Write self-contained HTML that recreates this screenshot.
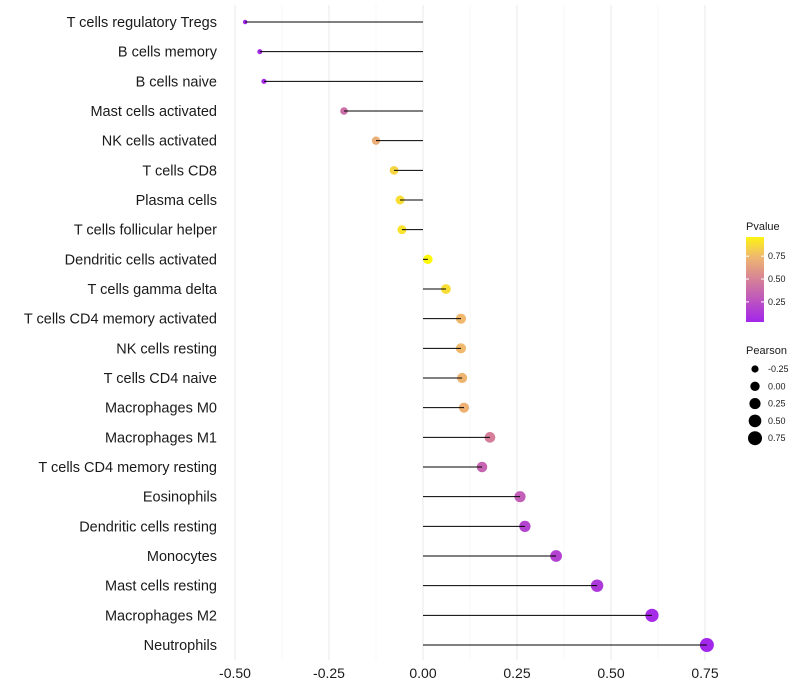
<!DOCTYPE html>
<html><head><meta charset="utf-8"><style>
html,body{margin:0;padding:0;background:#fff;}
svg{display:block;font-family:"Liberation Sans",sans-serif;}
</style></head><body>
<svg id="chart" width="800" height="700"></svg>
<script>
const categories=["T cells regulatory  Tregs","B cells memory","B cells naive","Mast cells activated","NK cells activated","T cells CD8","Plasma cells","T cells follicular helper","Dendritic cells activated","T cells gamma delta","T cells CD4 memory activated","NK cells resting","T cells CD4 naive","Macrophages M0","Macrophages M1","T cells CD4 memory resting","Eosinophils","Dendritic cells resting","Monocytes","Mast cells resting","Macrophages M2","Neutrophils"];
const pearson=[-0.473,-0.434,-0.423,-0.21,-0.125,-0.077,-0.061,-0.056,0.013,0.061,0.101,0.101,0.104,0.109,0.178,0.157,0.258,0.271,0.354,0.463,0.609,0.755];
const pvalues=[0.03,0.05,0.06,0.4,0.7,0.85,0.88,0.9,0.98,0.88,0.75,0.75,0.73,0.72,0.48,0.35,0.32,0.18,0.18,0.12,0.06,0.03];
const xTicks=[-0.5,-0.25,0,0.25,0.5,0.75];
const xTickLabels=["-0.50","-0.25","0.00","0.25","0.50","0.75"];
const sizeLegend=[-0.25,0,0.25,0.5,0.75];
const sizeLegendLabels=["-0.25","0.00","0.25","0.50","0.75"];
const colorLegendTicks=[0.25,0.5,0.75];
const colorLegendLabels=["0.25","0.50","0.75"];

const NS="http://www.w3.org/2000/svg";
const svg=document.getElementById('chart');
function mk(t,a,p){const e=document.createElementNS(NS,t);for(const k in a)e.setAttribute(k,a[k]);(p||svg).appendChild(e);return e;}
const x=v=>423+v*376;
const y=i=>22+i*(623/21);
const r=v=>Math.sqrt(4+(v+0.5)*36);
const stops=[[0,[160,32,240]],[0.5,[214,130,150]],[0.75,[240,185,110]],[1,[255,255,0]]];
function col(p){p=Math.max(0,Math.min(1,p));for(let i=1;i<stops.length;i++){if(p<=stops[i][0]){const a=stops[i-1],b=stops[i],t=(p-a[0])/(b[0]-a[0]);const c=a[1].map((v,k)=>Math.round(v+(b[1][k]-v)*t));return `rgb(${c.join(',')})`;}}return 'rgb(255,255,0)';}

for(let k=0;k<xTicks.length-1;k++){
 const m=(xTicks[k]+xTicks[k+1])/2;
 const g=mk('line',{x1:x(m),x2:x(m),y1:5,y2:660,stroke:'#f2f2f2','stroke-width':0.6});
 
 
}
xTicks.forEach((v,k)=>{
 const g=mk('line',{x1:x(v),x2:x(v),y1:5,y2:660,stroke:'#ebebeb','stroke-width':1.1});
 
 
 const t=mk('text',{x:x(v),y:678,'text-anchor':'middle','font-size':14,fill:'#1a1a1a'});
 t.textContent=xTickLabels[k];
 
 
});
categories.forEach((c,i)=>{
 const t=mk('text',{x:217,y:y(i)+5,'text-anchor':'end','font-size':14.5,fill:'#1a1a1a'});
 t.textContent=c;
 
 
 const d=mk('circle',{cx:x(pearson[i]),cy:y(i),r:r(pearson[i]),fill:col(pvalues[i])});
 
 
 const l=mk('line',{x1:x(0),x2:x(pearson[i]),y1:y(i),y2:y(i),stroke:'#000','stroke-width':1});
 
 
});
const lt=mk('text',{x:746,y:230,'font-size':11,fill:'#1a1a1a'});lt.textContent='Pvalue';


const defs=mk('defs',{});
const gr=mk('linearGradient',{id:'pg',x1:0,y1:1,x2:0,y2:0},defs);
for(let i=0;i<=20;i++){const p=0.03+i/20*0.93;mk('stop',{offset:i/20,'stop-color':col(p)},gr);}
const bar=mk('rect',{x:746,y:237,width:18,height:85,fill:'url(#pg)'});


colorLegendTicks.forEach((v,k)=>{
 const yy=322-(v-0.03)/0.93*85;
 mk('line',{x1:746,x2:749,y1:yy,y2:yy,stroke:'#fff'});
 mk('line',{x1:761,x2:764,y1:yy,y2:yy,stroke:'#fff'});
 const t=mk('text',{x:768,y:yy+3,'font-size':9,fill:'#1a1a1a'});t.textContent=colorLegendLabels[k];
 
 
});
const st=mk('text',{x:746,y:354,'font-size':11,fill:'#1a1a1a'});st.textContent='Pearson';


sizeLegend.forEach((v,k)=>{
 const yy=369+k*17.3;
 const c=mk('circle',{cx:755,cy:yy,r:r(v),fill:'#000'});
 
 
 const t=mk('text',{x:768,y:yy+3,'font-size':9,fill:'#1a1a1a'});t.textContent=sizeLegendLabels[k];
 
 
});
</script>
</body></html>
